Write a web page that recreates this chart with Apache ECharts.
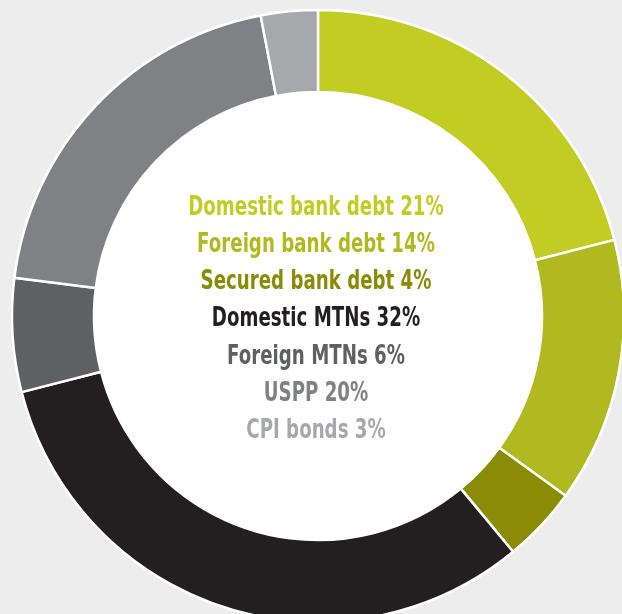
<!DOCTYPE html>
<html><head><meta charset="utf-8">
<script src="https://cdn.jsdelivr.net/npm/echarts@6/dist/echarts.min.js"></script>
<style>html,body{margin:0;padding:0;background:#ededed;}#c{width:622px;height:614px;}</style>
</head><body><div id="c"></div>
<script>
const categories = ['Domestic bank debt','Foreign bank debt','Secured bank debt','Domestic MTNs','Foreign MTNs','USPP','CPI bonds'];
const values = [21,14,4,32,6,20,3];
const colors = ['#c2cd23','#b0b920','#8a8c05','#231f20','#5f6062','#808184','#a7a8ab'];

const chart = echarts.init(document.getElementById('c'));
const cx = 318, cy = 316;
const lineY0 = 208, lineGap = 37.2;
const texts = categories.map((c,i)=>({
  type:'text', x: cx - 2, y: lineY0 + i*lineGap, scaleX: 0.70,
  style:{ text: c + ' ' + values[i] + '%', fill: colors[i], textAlign:'center', textVerticalAlign:'middle',
    font: 'bold 26px "DejaVu Sans", sans-serif' },
  z: 100
}));
chart.setOption({
  backgroundColor:'#ededed',
  animation:false,
  graphic: texts,
  series:[
    { type:'pie', radius:[0,307], center:[cx,cy], silent:true, label:{show:false}, labelLine:{show:false},
      data:[{value:1, itemStyle:{color:'#ffffff'}}], z:1 },
    { type:'pie', radius:[224,306], center:[cx,cy], startAngle:90, clockwise:true, silent:true,
      label:{show:false}, labelLine:{show:false},
      itemStyle:{borderColor:'#ffffff', borderWidth:2.5},
      data: categories.map((c,i)=>({name:c, value:values[i], itemStyle:{color:colors[i]}})), z:2 }
  ]
});
</script></body></html>
